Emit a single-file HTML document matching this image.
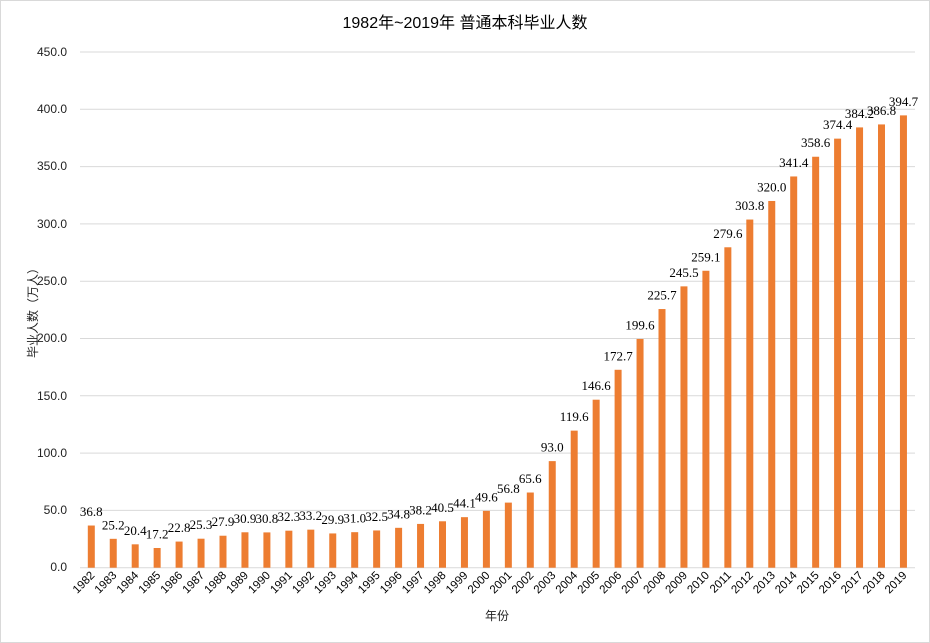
<!DOCTYPE html>
<html><head><meta charset="utf-8"><style>
html,body{margin:0;padding:0;background:#fff}
svg{display:block}
.t{font-family:"Liberation Sans","Noto Sans CJK SC",sans-serif;fill:#222;font-size:12px}
.d{font-family:"Liberation Serif","Noto Serif CJK SC",serif;fill:#000;font-size:13px;text-anchor:middle}
.x{font-family:"Liberation Sans",sans-serif;fill:#000;font-size:11.5px;text-anchor:end}
</style></head><body>
<svg width="930" height="643" viewBox="0 0 930 643" xmlns="http://www.w3.org/2000/svg">
<rect x="0.5" y="0.5" width="929" height="642" fill="#fff" stroke="#d9d9d9"/>
<text x="465" y="28" text-anchor="middle" font-family="Liberation Sans,Noto Sans CJK SC,sans-serif" font-size="16" fill="#000">1982年~2019年 普通本科毕业人数</text>
<g stroke="#d9d9d9" stroke-width="1">
<line x1="80" x2="915" y1="52" y2="52"/><line x1="80" x2="915" y1="109.3" y2="109.3"/><line x1="80" x2="915" y1="166.6" y2="166.6"/><line x1="80" x2="915" y1="223.9" y2="223.9"/><line x1="80" x2="915" y1="281.2" y2="281.2"/><line x1="80" x2="915" y1="338.5" y2="338.5"/><line x1="80" x2="915" y1="395.8" y2="395.8"/><line x1="80" x2="915" y1="453.1" y2="453.1"/><line x1="80" x2="915" y1="510.4" y2="510.4"/><line x1="80" x2="915" y1="567.7" y2="567.7"/>
</g>
<g class="t" text-anchor="end">
<text x="67" y="56">450.0</text><text x="67" y="113">400.0</text><text x="67" y="170">350.0</text><text x="67" y="228">300.0</text><text x="67" y="285">250.0</text><text x="67" y="342">200.0</text><text x="67" y="400">150.0</text><text x="67" y="457">100.0</text><text x="67" y="514">50.0</text><text x="67" y="571">0.0</text>
</g>
<text class="t" transform="translate(37,310) rotate(-90)" text-anchor="middle" font-size="12">毕业人数（万人）</text>
<text class="t" x="497" y="620" text-anchor="middle" font-size="12">年份</text>
<g transform="translate(0,567.7) scale(1,-1.146)" fill="#ed7d31">
<rect x="87.8" y="0" width="7" height="36.8"/><rect x="109.75" y="0" width="7" height="25.2"/><rect x="131.7" y="0" width="7" height="20.4"/><rect x="153.65" y="0" width="7" height="17.2"/><rect x="175.6" y="0" width="7" height="22.8"/><rect x="197.55" y="0" width="7" height="25.3"/><rect x="219.5" y="0" width="7" height="27.9"/><rect x="241.45" y="0" width="7" height="30.9"/><rect x="263.4" y="0" width="7" height="30.8"/><rect x="285.35" y="0" width="7" height="32.3"/><rect x="307.3" y="0" width="7" height="33.2"/><rect x="329.25" y="0" width="7" height="29.9"/><rect x="351.2" y="0" width="7" height="31.0"/><rect x="373.15" y="0" width="7" height="32.5"/><rect x="395.1" y="0" width="7" height="34.8"/><rect x="417.05" y="0" width="7" height="38.2"/><rect x="439" y="0" width="7" height="40.5"/><rect x="460.95" y="0" width="7" height="44.1"/><rect x="482.9" y="0" width="7" height="49.6"/><rect x="504.85" y="0" width="7" height="56.8"/><rect x="526.8" y="0" width="7" height="65.6"/><rect x="548.75" y="0" width="7" height="93.0"/><rect x="570.7" y="0" width="7" height="119.6"/><rect x="592.65" y="0" width="7" height="146.6"/><rect x="614.6" y="0" width="7" height="172.7"/><rect x="636.55" y="0" width="7" height="199.6"/><rect x="658.5" y="0" width="7" height="225.7"/><rect x="680.45" y="0" width="7" height="245.5"/><rect x="702.4" y="0" width="7" height="259.1"/><rect x="724.35" y="0" width="7" height="279.6"/><rect x="746.3" y="0" width="7" height="303.8"/><rect x="768.25" y="0" width="7" height="320.0"/><rect x="790.2" y="0" width="7" height="341.4"/><rect x="812.15" y="0" width="7" height="358.6"/><rect x="834.1" y="0" width="7" height="374.4"/><rect x="856.05" y="0" width="7" height="384.2"/><rect x="878" y="0" width="7" height="386.8"/><rect x="899.95" y="0" width="7" height="394.7"/>
</g>
<g class="d">
<text x="91.3" y="516">36.8</text><text x="113.25" y="529.3">25.2</text><text x="135.2" y="534.8">20.4</text><text x="157.15" y="538.5">17.2</text><text x="179.1" y="532.1">22.8</text><text x="201.05" y="529.2">25.3</text><text x="223" y="526.2">27.9</text><text x="244.95" y="522.8">30.9</text><text x="266.9" y="522.9">30.8</text><text x="288.85" y="521.2">32.3</text><text x="310.8" y="520.2">33.2</text><text x="332.75" y="523.9">29.9</text><text x="354.7" y="522.7">31.0</text><text x="376.65" y="521">32.5</text><text x="398.6" y="518.3">34.8</text><text x="420.55" y="514.4">38.2</text><text x="442.5" y="511.8">40.5</text><text x="464.45" y="507.7">44.1</text><text x="486.4" y="501.4">49.6</text><text x="508.35" y="493.1">56.8</text><text x="530.3" y="483">65.6</text><text x="552.25" y="451.6">93.0</text><text x="574.2" y="421.1">119.6</text><text x="596.15" y="390.2">146.6</text><text x="618.1" y="360.3">172.7</text><text x="640.05" y="329.5">199.6</text><text x="662" y="299.5">225.7</text><text x="683.95" y="276.9">245.5</text><text x="705.9" y="261.3">259.1</text><text x="727.85" y="237.8">279.6</text><text x="749.8" y="210">303.8</text><text x="771.75" y="191.5">320.0</text><text x="793.7" y="167">341.4</text><text x="815.65" y="147.2">358.6</text><text x="837.6" y="129.1">374.4</text><text x="859.55" y="117.9">384.2</text><text x="881.5" y="114.9">386.8</text><text x="903.45" y="105.9">394.7</text>
</g>
<g class="x">
<text transform="translate(95.3,576) rotate(-45)">1982</text><text transform="translate(117.25,576) rotate(-45)">1983</text><text transform="translate(139.2,576) rotate(-45)">1984</text><text transform="translate(161.15,576) rotate(-45)">1985</text><text transform="translate(183.1,576) rotate(-45)">1986</text><text transform="translate(205.05,576) rotate(-45)">1987</text><text transform="translate(227,576) rotate(-45)">1988</text><text transform="translate(248.95,576) rotate(-45)">1989</text><text transform="translate(270.9,576) rotate(-45)">1990</text><text transform="translate(292.85,576) rotate(-45)">1991</text><text transform="translate(314.8,576) rotate(-45)">1992</text><text transform="translate(336.75,576) rotate(-45)">1993</text><text transform="translate(358.7,576) rotate(-45)">1994</text><text transform="translate(380.65,576) rotate(-45)">1995</text><text transform="translate(402.6,576) rotate(-45)">1996</text><text transform="translate(424.55,576) rotate(-45)">1997</text><text transform="translate(446.5,576) rotate(-45)">1998</text><text transform="translate(468.45,576) rotate(-45)">1999</text><text transform="translate(490.4,576) rotate(-45)">2000</text><text transform="translate(512.35,576) rotate(-45)">2001</text><text transform="translate(534.3,576) rotate(-45)">2002</text><text transform="translate(556.25,576) rotate(-45)">2003</text><text transform="translate(578.2,576) rotate(-45)">2004</text><text transform="translate(600.15,576) rotate(-45)">2005</text><text transform="translate(622.1,576) rotate(-45)">2006</text><text transform="translate(644.05,576) rotate(-45)">2007</text><text transform="translate(666,576) rotate(-45)">2008</text><text transform="translate(687.95,576) rotate(-45)">2009</text><text transform="translate(709.9,576) rotate(-45)">2010</text><text transform="translate(731.85,576) rotate(-45)">2011</text><text transform="translate(753.8,576) rotate(-45)">2012</text><text transform="translate(775.75,576) rotate(-45)">2013</text><text transform="translate(797.7,576) rotate(-45)">2014</text><text transform="translate(819.65,576) rotate(-45)">2015</text><text transform="translate(841.6,576) rotate(-45)">2016</text><text transform="translate(863.55,576) rotate(-45)">2017</text><text transform="translate(885.5,576) rotate(-45)">2018</text><text transform="translate(907.45,576) rotate(-45)">2019</text>
</g>
</svg>
</body></html>
